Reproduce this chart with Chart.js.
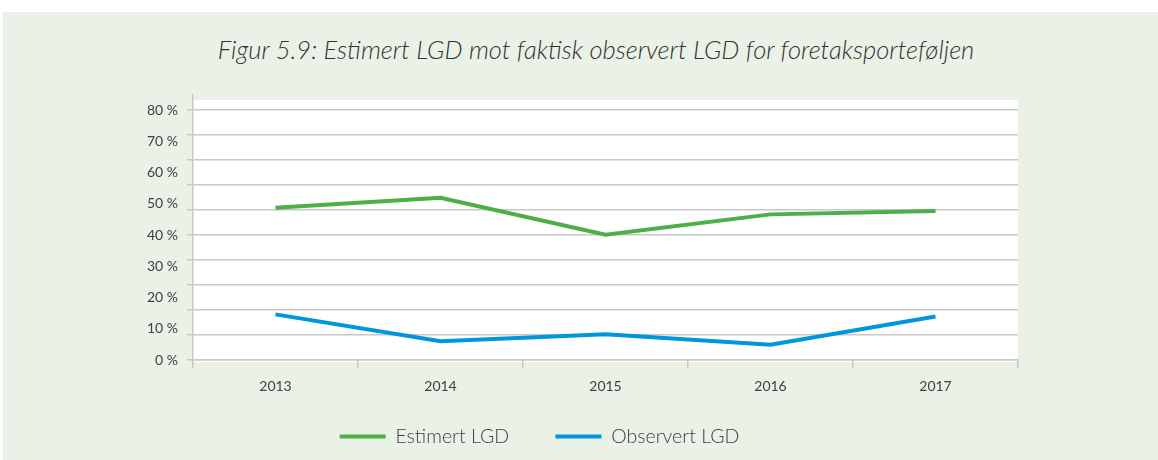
<!DOCTYPE html>
<html>
<head>
<meta charset="utf-8">
<script src="https://cdn.jsdelivr.net/npm/chart.js@4"></script>
<style>
  body { margin: 0; background: #ffffff; }
  #wrap { position: relative; width: 1158px; height: 460px; background: #ffffff; overflow: hidden; }
  #panel { position: absolute; left: 3px; top: 12px; width: 1155px; height: 448px; background: #eaf1e6; }
  #title {
    position: absolute; left: 0; top: 34px; width: 1192px; text-align: center;
    font-family: Lato, sans-serif; font-style: italic; font-weight: 300; font-size: 25.5px; color: #333333;
  }
  #chartBox { position: absolute; left: 0; top: 0; width: 1079px; height: 460px; }
</style>
</head>
<body>
<div id="wrap">
  <div id="panel"></div>
  <div id="title">Figur 5.9: Estimert LGD mot faktisk observert LGD for foretaksporteføljen</div>
  <div id="chartBox"><canvas id="lgdChart"></canvas></div>
</div>
<script>
// Data
const years = ['2013', '2014', '2015', '2016', '2017'];
const estimertLGD = [48.7, 51.9, 40.1, 46.6, 47.7];
const observertLGD = [14.6, 6.0, 8.2, 4.9, 13.9];
const gridTicks = [0, 8, 16, 24, 32, 40, 48, 56, 64, 72, 80];
const labelTicks = [0, 10, 20, 30, 40, 50, 60, 70, 80];

const green = '#4caf47';
const blue = '#0096db';
const gridColor = '#c8c8c8';

// white plot background, a little taller than the area itself
const plotBackground = {
    id: 'plotBackground',
    beforeDraw(chart) {
        const a = chart.chartArea;
        const ctx = chart.ctx;
        ctx.save();
        ctx.fillStyle = '#ffffff';
        ctx.fillRect(a.left, a.top + 5, a.right - a.left, a.bottom - a.top - 3);
        ctx.restore();
    }
};

const ctx = document.getElementById('lgdChart');
new Chart(ctx, {
    type: 'line',
    data: {
        labels: years,
        datasets: [{
            label: 'Estimert LGD',
            data: estimertLGD,
            borderColor: green,
            backgroundColor: green,
            borderWidth: 4,
            pointRadius: 0,
            tension: 0,
            yAxisID: 'y'
        }, {
            label: 'Observert LGD',
            data: observertLGD,
            borderColor: blue,
            backgroundColor: blue,
            borderWidth: 4,
            pointRadius: 0,
            tension: 0,
            yAxisID: 'y'
        }]
    },
    options: {
        responsive: true,
        maintainAspectRatio: false,
        animation: false,
        layout: { padding: { top: 95, bottom: 3.7, left: 0, right: 0 } },
        plugins: {
            title: { display: false },
            tooltip: { enabled: false },
            legend: {
                position: 'bottom',
                labels: {
                    usePointStyle: true,
                    pointStyle: 'line',
                    pointStyleWidth: 46,
                    boxWidth: 46,
                    padding: 22,
                    color: '#404040',
                    font: { family: 'Lato', size: 19.5, weight: 300 },
                    // extra gap after the first item (legend padding also sets the vertical offset)
                    generateLabels(chart) {
                        const items = Chart.defaults.plugins.legend.labels.generateLabels(chart);
                        items[0].text += '\u2003\u2002';
                        return items;
                    }
                }
            }
        },
        scales: {
            x: {
                type: 'category',
                offset: true,
                grid: {
                    offset: true,
                    drawOnChartArea: false,
                    drawTicks: true,
                    tickLength: 8,
                    color: gridColor,
                    lineWidth: 1.5
                },
                border: { color: gridColor, width: 1.5 },
                ticks: {
                    color: '#404040',
                    padding: 10,
                    font: { family: 'Lato', size: 14 }
                }
            },
            y: {
                position: 'left',
                min: 0,
                max: 84.8,
                weight: 0,
                afterBuildTicks(scale) { scale.ticks = gridTicks.map(v => ({ value: v })); },
                ticks: { display: false },
                grid: { color: gridColor, lineWidth: 1.5, tickLength: 6, drawTicks: true },
                border: { color: gridColor, width: 1.5 },
                afterFit(scale) { scale.width = 6; }
            },
            yLabels: {
                position: 'left',
                min: 0,
                max: 84.8,
                weight: 1,
                afterBuildTicks(scale) { scale.ticks = labelTicks.map(v => ({ value: v })); },
                ticks: {
                    color: '#404040',
                    padding: 9,
                    font: { family: 'Lato', size: 14 },
                    callback: v => v + ' %'
                },
                grid: { display: false, drawTicks: false },
                border: { display: false },
                afterFit(scale) { scale.width = 187; }
            },
            yRight: {
                position: 'right',
                min: 0,
                max: 1,
                ticks: { display: false },
                grid: { display: false, drawTicks: false },
                border: { display: false },
                afterFit(scale) { scale.width = 61; }
            }
        }
    },
    plugins: [plotBackground]
});
</script>
</body>
</html>
